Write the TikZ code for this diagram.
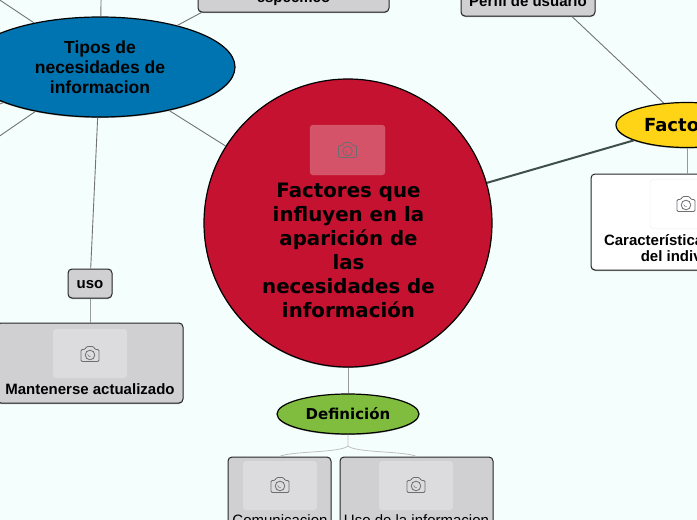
\documentclass[tikz,border=0pt]{standalone}
\usepackage{fontspec}
\setmainfont{Liberation Sans}
\newfontfamily\titlefont{DejaVu Sans}
\usetikzlibrary{shapes.geometric,shadows}
\definecolor{bgazure}{HTML}{F4FFFD}
\definecolor{mainred}{HTML}{C41230}
\definecolor{tiposblue}{HTML}{0074B0}
\definecolor{factyellow}{HTML}{FFD416}
\definecolor{defgreen}{HTML}{80BD3F}
\definecolor{boxgray}{HTML}{D0D0D2}
\definecolor{imggray}{HTML}{DCDCDE}
\definecolor{icongray}{HTML}{6E6E72}
\definecolor{darklink}{HTML}{3F4F4A}
\tikzset{
  softshadow/.style={drop shadow={shadow xshift=0pt,shadow yshift=-1pt,opacity=.35,fill=black}},
  topicnode/.style={ellipse,draw=black,line width=1.2pt,inner sep=0pt,softshadow},
  boxnode/.style={rectangle,rounded corners=4pt,draw=black!85,line width=1pt,fill=boxgray,inner sep=0pt,softshadow},
  imgbox/.style={rectangle,rounded corners=3pt,fill=imggray,inner sep=0pt,minimum width=74pt,minimum height=49pt},
  boxtext/.style={font=\fontsize{15}{16.5}\selectfont\bfseries,align=center,inner sep=0pt},
  titletext/.style={font=\titlefont\fontsize{18}{18}\selectfont\bfseries,align=center,inner sep=0pt},
  link/.style={draw=black!55,line width=0.9pt},
  softlink/.style={draw=black!25,line width=0.8pt},
  camicon/.pic={
    \draw[icongray,line width=0.8pt,rounded corners=1.2pt]
      (-9,7.5) -- (-9,-4.5) -- (-5,-4.5) -- (-3.5,-7.5) -- (3.5,-7.5) -- (5,-4.5) -- (9,-4.5) -- (9,7.5) -- cycle;
    \draw[icongray,line width=0.8pt] (0,1) circle (4.8pt);
    \draw[icongray,line width=0.5pt] (-2.4,0.4) arc (190:280:2.6pt);
  }
}
\begin{document}
\begin{tikzpicture}[x=1pt,y=-1pt]
\useasboundingbox (0,0) rectangle (697,520);
\clip (0,0) rectangle (697,520);
\fill[bgazure] (0,0) rectangle (697,520);
% main topics
\node[topicnode,circle,fill=mainred,minimum size=288pt] (main) at (348,223) {};
\node[topicnode,fill=tiposblue,minimum width=270pt,minimum height=100pt] (tipos) at (100,67) {};
\node[topicnode,fill=factyellow,minimum width=142pt,minimum height=45pt] (factores) at (687,125) {};
\node[topicnode,fill=defgreen,minimum width=142pt,minimum height=40pt] (definicion) at (348,414) {};
% boxes
\node[boxnode,minimum width=191pt,minimum height=98pt] (especifico) at (293.5,-37) {};
\node[boxnode,minimum width=134pt,minimum height=82pt] (perfil) at (528,-25) {};
\node[boxnode,fill=white,minimum width=192pt,minimum height=96pt] (caract) at (687,222) {};
\node[boxnode,minimum width=44pt,minimum height=29pt] (uso) at (90,283.5) {};
\node[boxnode,minimum width=186pt,minimum height=80pt] (mantenerse) at (90,363) {};
\node[boxnode,minimum width=103pt,minimum height=83pt] (comunicacion) at (279.5,498.5) {};
\node[boxnode,minimum width=153pt,minimum height=83pt] (usoinfo) at (416.5,498.5) {};
% connectors
\coordinate (offtop) at (102,-60);
\coordinate (offleftA) at (-60,-40);
\coordinate (offleftB) at (-60,126);
\coordinate (offleftC) at (-60,177);
\coordinate (fork) at (348,446);
\draw[link] (tipos) -- (offtop);
\draw[link] (tipos) -- (offleftA);
\draw[link] (tipos) -- (offleftB);
\draw[link] (tipos) -- (offleftC);
\draw[link] (tipos) -- (especifico);
\draw[link] (tipos) -- (uso);
\draw[link] (tipos) -- (main);
\draw[draw=darklink,line width=2pt] (main) -- (factores);
\draw[link] (perfil) -- (factores);
\draw[link,draw=black!40] (factores) -- (caract);
\draw[link,draw=black!40] (uso) -- (mantenerse);
\draw[link,draw=black!40] (main) -- (definicion);
\draw[softlink] (definicion.south) -- (fork) .. controls (340,453) and (290,451) .. (comunicacion.north);
\draw[softlink] (fork) .. controls (356,453) and (406,451) .. (usoinfo.north);
% images
\node[imgbox,fill=white,fill opacity=.28,draw=white,draw opacity=.15,minimum width=75pt,minimum height=50pt] (mainimg) at (347.5,150) {};
\pic at (347.5,150) {camicon};
\node[imgbox,fill=white,draw=black!8] (caractimg) at (687,204) {};
\pic at (686,204) {camicon};
\node[imgbox] (mantimg) at (90,353.5) {};
\pic at (90,354) {camicon};
\node[imgbox] (comimg) at (280,485.5) {};
\pic at (280,485) {camicon};
\node[imgbox] (usoimg) at (416,485.5) {};
\pic at (416,485) {camicon};
% labels
\node[titletext,font=\titlefont\fontsize{19.8}{24}\selectfont\bfseries] (mainlabel) at (348.5,250) {Factores que\\influyen en la\\aparición de\\las\\necesidades de\\información};
\node[boxtext,font=\fontsize{17.5}{20}\selectfont\bfseries] (tiposlabel) at (100,67) {Tipos de\\necesidades de\\informacion};
\node[titletext] (factoreslabel) at (687.5,125) {Factores};
\node[titletext,font=\titlefont\fontsize{15}{18}\selectfont\bfseries] (definicionlabel) at (348,414) {Definición};
\node[boxtext] (especificolabel) at (293.5,-1) {específico};
\node[boxtext] (perfillabel) at (528,1) {Perfil de usuario};
\node[boxtext] (caractlabel) at (687,248) {Características propias\\del individuo};
\node[boxtext] (usolabel) at (90,285) {uso};
\node[boxtext] (mantlabel) at (90,389) {Mantenerse actualizado};
\node[boxtext,font=\fontsize{15}{16}\selectfont] (comlabel) at (280,520) {Comunicacion};
\node[boxtext,font=\fontsize{15}{16}\selectfont] (usoinfolabel) at (416.5,520) {Uso de la informacion};
\end{tikzpicture}
\end{document}
